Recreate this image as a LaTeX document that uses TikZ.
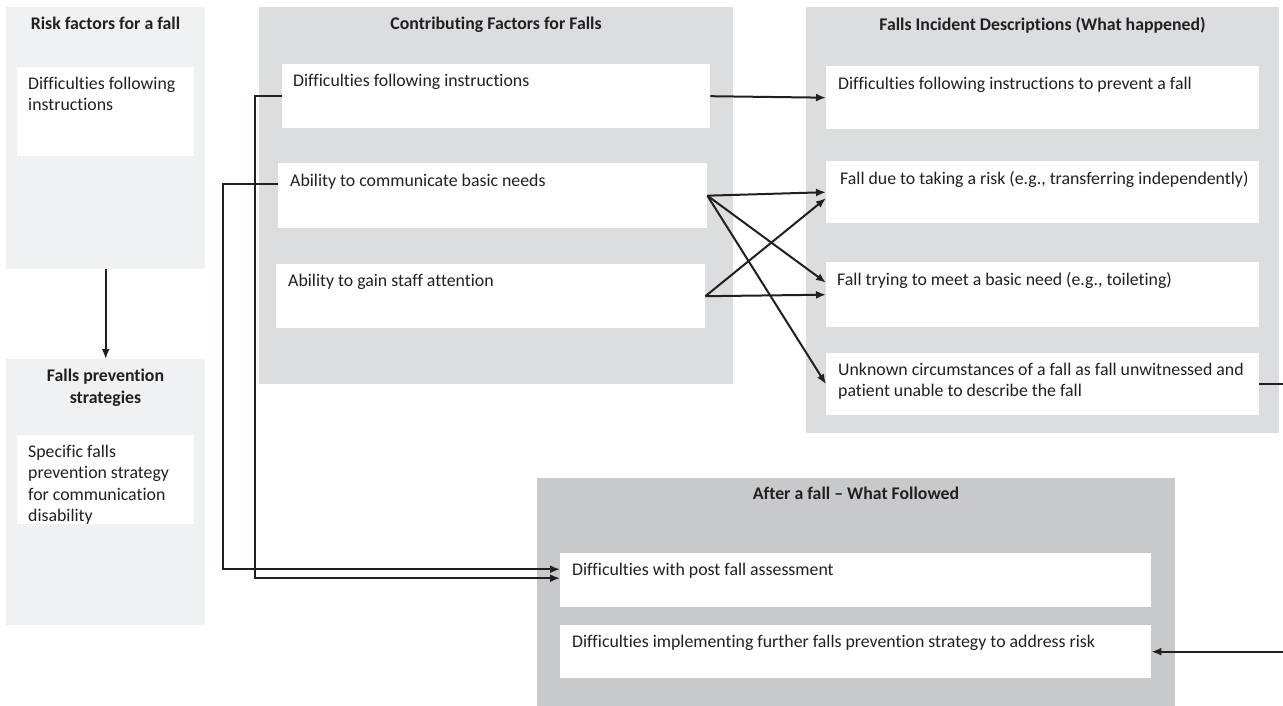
\documentclass[tikz,border=0pt]{standalone}
\usepackage{fontspec}
\setmainfont{Carlito}[Ligatures=NoCommon]
\usetikzlibrary{arrows.meta}
\definecolor{paleGray}{RGB}{240,241,243}
\definecolor{midGray}{RGB}{220,221,223}
\definecolor{darkGray}{RGB}{200,201,203}
\definecolor{lineCol}{RGB}{35,31,32}

\begin{document}
\begin{tikzpicture}[x=1pt,y=-1pt,
  panel/.style={anchor=north west, inner sep=0pt},
  cell/.style={fill=white, anchor=north west, inner sep=0pt},
  txt/.style={anchor=north west, inner sep=0pt, align=left, text=lineCol, font=\fontsize{17.8}{21.5}\selectfont},
  ttl/.style={anchor=north, inner sep=0pt, align=center, text=lineCol, font=\fontsize{17.8}{21.5}\selectfont\bfseries},
  link/.style={draw=lineCol, line width=2pt, -{Latex[length=10pt,width=8pt]}}]
  \useasboundingbox (0,0) rectangle (1283,706);

  % panels
  \node[panel, fill=paleGray, minimum width=199pt, minimum height=262pt] (rf) at (6,7) {};
  \node[panel, fill=paleGray, minimum width=199pt, minimum height=266pt] (fp) at (6,359) {};
  \node[panel, fill=midGray, minimum width=474pt, minimum height=377pt] (cf) at (259,7) {};
  \node[panel, fill=midGray, minimum width=473pt, minimum height=426pt] (fi) at (806,7) {};
  \node[panel, fill=darkGray, minimum width=638pt, minimum height=228pt] (af) at (537,478) {};

  % titles
  \node[ttl] (rft) at (105.5,17) {Risk factors for a fall};
  \node[ttl] (fpt) at (105.5,369) {Falls prevention\\strategies};
  \node[ttl] (cft) at (496,17) {Contributing Factors for Falls};
  \node[ttl] (fit) at (1042.5,17) {Falls Incident Descriptions (What happened)};
  \node[ttl] (aft) at (856,487) {After a fall -- What Followed};

  % white boxes
  \node[cell, minimum width=177pt, minimum height=89pt] (rf1) at (17,67) {};
  \node[cell, minimum width=177pt, minimum height=89pt] (fp1) at (17,435) {};
  \node[cell, minimum width=428pt, minimum height=64pt] (cf1) at (282,64) {};
  \node[cell, minimum width=429pt, minimum height=65pt] (cf2) at (278,163) {};
  \node[cell, minimum width=429pt, minimum height=64pt] (cf3) at (276,264) {};
  \node[cell, minimum width=433pt, minimum height=63pt] (fi1) at (826,66) {};
  \node[cell, minimum width=433pt, minimum height=62pt] (fi2) at (826,161) {};
  \node[cell, minimum width=433pt, minimum height=65pt] (fi3) at (826,262) {};
  \node[cell, minimum width=433pt, minimum height=62pt] (fi4) at (826,353) {};
  \node[cell, minimum width=591pt, minimum height=54pt] (af1) at (560,553) {};
  \node[cell, minimum width=591pt, minimum height=53pt] (af2) at (560,625) {};

  % box texts
  \node[txt] (rf1t) at (28,76.5) {Difficulties following\\instructions};
  \node[txt] (fp1t) at (28,444.5) {Specific falls\\prevention strategy\\for communication\\disability};
  \node[txt] (cf1t) at (293,73.5) {Difficulties following instructions};
  \node[txt] (cf2t) at (290,173.5) {Ability to communicate basic needs};
  \node[txt] (cf3t) at (288,273.5) {Ability to gain staff attention};
  \node[txt] (fi1t) at (838,76.5) {Difficulties following instructions to prevent a fall};
  \node[txt] (fi2t) at (840,171.5) {Fall due to taking a risk (e.g., transferring independently)};
  \node[txt] (fi3t) at (837,272.5) {Fall trying to meet a basic need (e.g., toileting)};
  \node[txt] (fi4t) at (838,362.5) {Unknown circumstances of a fall as fall unwitnessed and\\patient unable to describe the fall};
  \node[txt] (af1t) at (572,562.5) {Difficulties with post fall assessment};
  \node[txt] (af2t) at (572,634.5) {Difficulties implementing further falls prevention strategy to address risk};

  % connectors
  \draw[link] (rf.south) -- (fp.north);
  \draw[link] (cf1.east) -- (fi1.west);
  \draw[link] (cf2.east) -- (fi2.west);
  \draw[link] (cf2.east) -- ([yshift=12pt]fi3.west);
  \draw[link] (cf2.east) -- (fi4.west);
  \draw[link] (cf3.east) -- ([yshift=-6pt]fi2.west);
  \draw[link] (cf3.east) -- (fi3.west);
  \draw[link] (cf1.west) -- ++(-27,0) |- ([yshift=2pt]af1.west);
  \draw[link] ([yshift=12pt]cf2.west) -- ++(-55,0) |- ([yshift=11pt]af1.west);
  \draw[link] (fi4.east) -- ++(40,0) |- (af2.east);
\end{tikzpicture}
\end{document}
